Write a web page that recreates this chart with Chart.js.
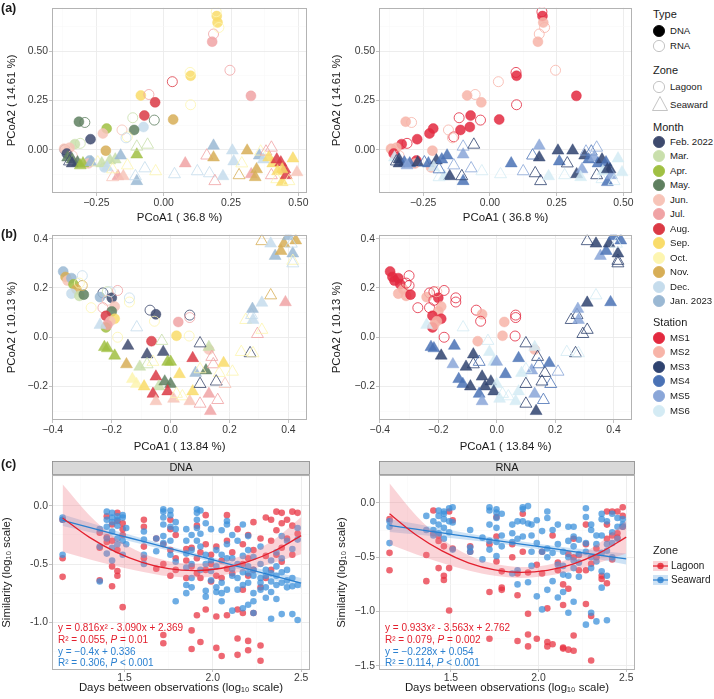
<!DOCTYPE html>
<html><head><meta charset="utf-8">
<script src="https://cdn.jsdelivr.net/npm/chart.js@4.4.1/dist/chart.umd.min.js"></script>
<style>
body{margin:0;background:#fff;width:714px;height:699px;position:relative;overflow:hidden;font-family:"Liberation Sans",Arial,sans-serif;color:#1a1a1a}
canvas{position:absolute}
.pl{position:absolute;font-weight:bold;font-size:12.5px;line-height:14px}
.t{position:absolute;white-space:nowrap;line-height:12px}
.lt{font-size:11px}
.li{font-size:9.6px}
.eq{font-size:10px}
svg{position:absolute;overflow:visible}
</style></head><body>
<canvas id="a1" width="315" height="230" style="left:0;top:0"></canvas>
<canvas id="a2" width="314" height="230" style="left:326px;top:0"></canvas>
<canvas id="b1" width="315" height="230" style="left:0;top:227px"></canvas>
<canvas id="b2" width="314" height="230" style="left:326px;top:227px"></canvas>
<canvas id="c1" width="315" height="244" style="left:0;top:455px"></canvas>
<canvas id="c2" width="314" height="244" style="left:326px;top:455px"></canvas>
<div class="pl" style="left:1px;top:1px">(a)</div>
<div class="pl" style="left:1px;top:227px">(b)</div>
<div class="pl" style="left:1px;top:457px">(c)</div>
<div id="legend"></div>
<script>
// ---------- categories ----------
const typeNames = ['DNA', 'RNA'];
const zoneNames = ['Lagoon', 'Seaward'];
const monthNames = ['Feb. 2022','Mar.','Apr.','May.','Jun.','Jul.','Aug.','Sep.','Oct.','Nov.','Dec.','Jan. 2023'];
const monthColors = ['#3e4a6e','#c9dfac','#a0c043','#5f8060','#f7c4b8','#f0a3a5','#db3a45','#f9dc6a','#fdf5b0','#d7ae57','#c5dcec','#9ab8d3'];
const stationNames = ['MS1','MS2','MS3','MS4','MS5','MS6'];
const stationColors = ['#e3293f','#f7b4a8','#2f4370','#4a72b5','#8aa6d8','#d4ebf4'];

// ---------- PCoA (a): [PCoA1, PCoA2, type(0 DNA/1 RNA), month, station] ----------
const pcoaA = [
[0.197,0.678,0,7,0],[0.200,0.645,0,7,1],[0.195,0.700,1,8,0],[0.185,0.587,1,5,1],[0.205,0.620,1,8,1],
[0.180,0.548,0,5,1],[0.246,0.403,1,5,1],[0.032,0.345,1,6,1],[0.100,0.375,0,7,0],[0.098,0.392,1,8,0],
[0.100,0.228,1,8,0],[0.324,0.273,0,5,0],[-0.085,0.275,0,7,1],[-0.055,0.280,1,5,1],[-0.032,0.240,0,6,1],
[-0.072,0.173,0,6,0],[0.035,0.153,0,9,0],[-0.035,0.150,1,3,0],[-0.075,0.115,0,10,0],[-0.115,0.162,1,1,0],
[-0.110,0.100,0,3,0],[-0.135,0.065,1,8,0],[-0.155,0.100,1,4,1],[-0.212,0.107,0,2,0],[-0.226,0.082,0,4,0],
[-0.272,0.053,0,0,0],[-0.315,0.142,0,3,1],[-0.293,0.138,1,3,1],[-0.330,0.028,0,1,0],[-0.310,0.032,1,1,0],
[-0.215,-0.005,0,9,1],[-0.367,0.000,1,0,1],[-0.370,0.005,0,4,1],[-0.350,0.010,0,4,1],[-0.360,-0.020,0,0,0],
[-0.275,-0.055,0,11,0],[-0.280,-0.070,0,4,1],[-0.220,-0.090,0,10,1],[-0.340,-0.030,1,4,1],[-0.140,0.060,1,10,1],
[-0.357,-0.040,0,3,5],[-0.340,-0.050,0,3,2],[-0.320,-0.065,0,3,3],[-0.300,-0.070,0,2,3],[-0.340,-0.070,0,0,2],
[-0.310,-0.080,0,2,4],[-0.350,-0.060,1,0,2],[-0.270,-0.065,0,11,2],[-0.245,-0.065,1,8,3],[-0.230,-0.070,0,1,3],
[-0.200,-0.055,0,1,2],[-0.180,-0.050,0,1,3],[-0.160,-0.030,0,11,3],[-0.100,-0.025,0,2,4],[-0.100,0.015,1,1,4],
[-0.060,0.025,1,1,2],[-0.135,-0.080,1,8,4],[-0.210,-0.090,0,10,5],[-0.170,-0.135,0,5,5],[-0.150,-0.135,0,4,2],
[-0.190,-0.140,1,4,5],[-0.100,-0.160,0,11,3],[-0.070,-0.095,1,10,4],[-0.105,-0.135,1,10,2],[0.040,-0.125,1,10,5],
[0.080,-0.070,0,5,3],[0.125,-0.110,1,10,4],[0.170,-0.120,1,10,2],[0.190,-0.160,1,5,2],[0.220,-0.135,0,10,5],
[0.160,-0.030,1,5,3],[0.185,-0.040,0,9,2],[0.185,0.020,0,11,4],[0.255,-0.005,0,10,2],[0.260,-0.060,0,10,3],
[0.290,-0.070,1,8,2],[0.280,-0.130,1,9,5],[0.310,-0.005,0,9,2],[0.325,-0.125,0,5,2],[0.345,-0.100,0,9,4],
[0.340,-0.140,0,9,5],[0.355,-0.030,0,11,2],[0.370,-0.050,0,10,3],[0.360,-0.010,1,8,4],[0.380,-0.010,1,5,3],
[0.400,0.010,1,5,4],[0.390,-0.040,0,7,4],[0.405,-0.070,0,7,3],[0.420,-0.050,0,6,2],[0.435,-0.065,0,6,3],
[0.450,-0.100,0,6,2],[0.400,-0.130,1,5,2],[0.423,-0.110,0,7,5],[0.420,-0.150,1,8,5],[0.440,-0.165,0,7,3],
[0.455,-0.130,0,6,4],[0.480,-0.045,0,7,5],[0.495,-0.115,0,4,5],[0.465,-0.160,1,8,5],[-0.030,-0.110,1,8,5],
[-0.190,-0.100,1,8,3],[0.440,-0.100,0,7,2]
];

// ---------- PCoA (b) ----------
const pcoaB = [
[-0.365,0.267,0,11,0],[-0.357,0.245,0,9,0],[-0.350,0.230,0,4,0],[-0.337,0.240,0,11,0],[-0.330,0.215,0,2,0],
[-0.320,0.195,0,9,1],[-0.337,0.177,0,10,1],[-0.310,0.168,0,1,1],[-0.295,0.173,0,3,0],[-0.300,0.250,1,10,0],
[-0.300,0.210,1,9,0],[-0.270,0.120,1,8,0],[-0.230,0.180,1,0,0],[-0.240,0.163,0,11,1],[-0.215,0.185,1,1,0],
[-0.200,0.160,0,0,0],[-0.180,0.190,1,5,0],[-0.190,0.125,0,4,1],[-0.230,0.120,1,5,0],[-0.200,0.105,0,3,1],
[-0.220,0.087,0,6,0],[-0.190,0.075,0,7,0],[-0.205,0.065,0,4,1],[-0.220,0.040,0,2,0],[-0.215,0.050,0,5,1],
[-0.140,0.160,1,10,0],[-0.140,0.143,1,8,0],[-0.180,0.000,1,8,0],[-0.070,0.110,1,0,0],[-0.050,0.093,0,0,1],
[-0.055,0.065,1,8,0],[-0.065,-0.016,0,6,1],[0.026,0.062,0,5,1],[0.020,0.006,0,7,1],[0.065,0.090,1,0,0],
[0.065,0.080,1,5,0],[0.063,0.005,1,8,0],[-0.215,0.150,1,4,0],[-0.205,0.185,1,10,1],[-0.310,0.220,1,8,0],
[0.130,-0.050,0,4,1],
[-0.240,0.050,0,10,5],[-0.225,-0.040,0,2,3],[-0.215,-0.045,0,2,3],[-0.190,-0.075,0,2,2],[-0.150,-0.110,0,9,4],
[-0.145,-0.035,0,0,3],[-0.115,0.040,1,10,5],[-0.080,-0.070,0,0,2],[-0.105,-0.120,0,1,2],[-0.080,-0.110,1,1,2],
[-0.060,-0.100,1,8,3],[-0.025,-0.060,0,0,5],[-0.030,-0.015,1,1,5],[-0.010,-0.100,0,2,5],[0.000,-0.100,0,2,4],
[-0.130,-0.170,0,8,3],[-0.116,-0.190,0,8,3],[-0.090,-0.200,0,7,2],[-0.050,-0.160,0,6,2],[-0.040,-0.200,0,1,2],
[-0.020,-0.180,0,3,2],[0.000,-0.190,0,3,5],[-0.060,-0.230,0,6,3],[-0.050,-0.260,0,4,4],[-0.010,-0.220,0,6,2],
[0.010,-0.250,0,4,5],[0.030,-0.150,0,7,3],[0.040,-0.240,1,8,5],[0.075,-0.085,0,6,3],[0.085,-0.145,0,11,5],
[0.065,-0.260,0,4,5],[0.075,-0.220,0,7,5],[0.120,-0.135,0,3,4],[0.130,-0.040,0,1,5],[0.130,-0.230,0,5,4],
[0.135,-0.300,0,5,2],[0.100,-0.025,1,0,2],[0.140,-0.080,1,5,2],[0.145,-0.110,1,5,3],[0.165,-0.145,1,8,2],
[0.155,-0.180,1,0,2],[0.100,-0.190,1,0,2],[0.100,-0.130,1,8,5],[0.180,-0.105,0,7,3],[0.185,-0.190,1,4,3],
[0.160,-0.255,1,5,3],[0.100,-0.270,1,5,2],[0.210,-0.140,1,8,4],[0.270,-0.065,1,0,2],[0.280,-0.065,1,8,5],
[0.255,0.070,1,8,2],[0.275,0.090,1,10,2],[0.278,0.115,0,11,4],[0.310,0.140,0,10,2],[0.280,0.070,0,10,4],
[0.295,0.013,1,5,2],[0.310,0.030,1,8,2],[0.340,0.170,1,9,5],[0.390,0.142,0,5,3],[0.310,0.390,1,9,2],
[0.340,0.380,0,10,2],[0.355,0.330,0,11,4],[0.375,0.350,0,9,3],[0.385,0.380,0,9,2],[0.400,0.410,0,11,3],
[0.425,0.393,0,9,3],[0.415,0.340,0,11,2],[0.415,0.310,1,8,2],[0.415,0.300,1,10,2],[0.410,0.380,1,10,5],
[0.240,-0.060,1,8,5],[0.020,-0.230,1,8,5]
];

// ---------- (c) similarity vs days: [log10 days, [log10 similarity values]] ----------
const dnaLagoon = [
[1.15,[-0.45,-0.61,-0.12]],[1.36,[-0.36,-0.64,-0.23]],[1.40,[-0.09,-0.27,-0.31]],[1.43,[-0.16,-0.52,-0.69,-0.30]],
[1.46,[-0.06,-0.56,-0.60,-0.13,-0.38]],[1.49,[-0.20,-0.25,-0.87,-0.15]],[1.61,[-0.35,-0.18,-0.45,-0.12]],
[1.68,[-0.28,-0.54]],[1.72,[-1.11,-1.18,-0.50,-0.33]],[1.76,[-0.12,-0.20,-0.38,-0.60]],[1.79,[-0.25,-0.45,-0.55]],
[1.85,[-0.37,-0.62,-0.47]],[1.88,[-1.07,-1.23,-0.36,-0.52]],[1.91,[-0.17,-0.58,-0.94,-0.45]],[1.93,[-1.17,-0.40,-0.62]],
[1.96,[-0.08,-0.33,-0.55,-0.89]],[1.99,[-0.50,-0.65,-0.42]],[2.02,[-1.22,-0.60,-0.35,-0.95]],[2.05,[-1.29,-0.47,-0.62]],
[2.08,[-0.08,-0.30,-0.54,-0.94]],[2.11,[-0.40,-0.58]],[2.14,[-1.14,-1.28,-0.20,-0.89]],[2.17,[-0.33,-0.50,-0.72,-0.92]],
[2.20,[-1.16,-1.24,-0.25,-0.45,-0.60]],[2.23,[-0.14,-0.38,-0.55,-0.92]],[2.27,[-1.20,-1.33,-0.28,-0.70]],
[2.30,[-0.10,-0.43,-0.62]],[2.33,[-0.12,-0.30,-0.55]],[2.36,[-0.05,-0.21,-0.42]],[2.39,[-0.06,-0.15,-0.36,-0.48]],
[2.42,[-0.12,-0.28]],[2.45,[-0.05,-0.17,-0.42]],[2.48,[-0.06,-0.24]]
];
const dnaSeaward = [
[1.15,[-0.10,-0.12,-0.42]],[1.36,[-0.35,-0.20,-0.65]],[1.40,[-0.05,-0.12,-0.18,-0.28,-0.41]],
[1.43,[-0.06,-0.10,-0.14,-0.22,-0.36,-0.47]],[1.46,[-0.09,-0.12,-0.17,-0.28,-0.33]],[1.49,[-0.08,-0.10,-0.30,-0.42]],
[1.51,[-0.19,-0.33]],[1.61,[-0.22,-0.29,-0.42,-0.50]],[1.68,[-0.28,-0.39]],[1.72,[-0.03,-0.05,-0.10,-0.16,-0.26,-0.32]],
[1.76,[-0.04,-0.08,-0.18,-0.30,-0.42]],[1.79,[-0.14,-0.20,-0.48,-0.82]],[1.85,[-0.20,-0.30,-0.41,-0.53,-0.68,-0.75]],
[1.88,[-0.25,-0.38,-0.50,-0.62,-0.70]],[1.91,[-0.03,-0.06,-0.12,-0.19,-0.30]],[1.93,[-0.04,-0.24,-0.35,-0.55]],
[1.96,[-0.15,-0.42,-0.50,-0.73,-0.78]],[1.99,[-0.20,-0.47,-0.56,-0.64]],[2.02,[-0.38,-0.52,-0.70,-0.74]],
[2.05,[-0.21,-0.42,-0.66,-0.75,-0.82]],[2.08,[-0.13,-0.16,-0.33,-0.45,-0.72]],[2.11,[-0.25,-0.45,-0.54,-0.60,-0.90]],
[2.14,[-0.30,-0.50,-0.62,-0.72]],[2.17,[-0.16,-0.43,-0.57,-0.68,-0.88]],[2.20,[-0.26,-0.38,-0.52,-0.58,-0.66,-0.85]],
[2.23,[-0.44,-0.55,-0.60,-0.75,-0.82,-0.92]],[2.27,[-0.35,-0.50,-0.62,-0.66,-0.72]],[2.30,[-0.55,-0.60,-0.70,-0.79]],
[2.33,[-0.47,-0.58,-0.65,-0.74,-0.97]],[2.36,[-0.40,-0.52,-0.60,-0.68,-0.80]],[2.39,[-0.26,-0.45,-0.57,-0.66,-0.93]],
[2.42,[-0.30,-0.55,-0.64,-0.70]],[2.45,[-0.37,-0.62,-0.69,-0.93]],[2.48,[-0.19,-0.29,-0.68,-0.98]]
];
const rnaLagoon = [
[1.15,[-0.46,-0.62,-0.15]],[1.36,[-0.72,-0.48]],[1.40,[-0.07,-0.28]],[1.43,[-0.30,-0.35,-0.60]],
[1.46,[-0.67,-0.71,-0.40]],[1.49,[-0.60,-0.99,-0.08]],[1.51,[-0.16,-0.42]],[1.61,[-0.40,-0.45]],
[1.72,[-0.82,-1.25,-0.38]],[1.76,[-0.13,-0.31,-0.54]],[1.79,[-0.63,-0.78,-0.80]],[1.85,[-0.50,-0.38]],
[1.88,[-0.85,-1.27,-0.65]],[1.91,[-0.10,-0.45]],[1.94,[-1.02,-1.21,-1.32,-0.64]],[1.99,[-0.57,-1.25]],
[2.02,[-0.45,-0.65]],[2.05,[-0.97,-1.28,-1.32]],[2.08,[-0.30,-1.30]],[2.11,[-0.55,-0.62]],
[2.14,[-1.33,-1.34,-0.94,-0.75]],[2.17,[-0.47,-0.79,-1.35]],[2.20,[-1.22,-1.36,-0.33,-0.50]],[2.23,[-0.48,-0.62]],
[2.27,[-0.20,-0.38,-0.62,-0.93]],[2.30,[-1.04,-1.45,-0.56]],[2.33,[-0.42,-0.50]],[2.36,[-0.67,-0.70]],
[2.39,[-0.08,-0.20,-0.33,-0.74]],[2.42,[-0.08,-0.30,-0.52]],[2.45,[-0.08,-0.28,-0.32]],[2.48,[-0.04,-0.12,-0.22]]
];
const rnaSeaward = [
[1.15,[-0.17,-0.22,-0.37]],[1.36,[-0.12,-0.25]],[1.40,[-0.17,-0.25,-0.30]],[1.43,[-0.07,-0.12,-0.20,-0.28]],
[1.46,[-0.08,-0.10,-0.15,-0.23,-0.33]],[1.49,[-0.05,-0.17,-0.27]],[1.51,[-0.04,-0.18,-0.43]],[1.61,[-0.25,-0.41,-0.45]],
[1.68,[-0.32,-0.52]],[1.72,[-0.04,-0.07,-0.20,-0.35,-0.43]],[1.76,[-0.06,-0.09,-0.14,-0.23,-0.36,-0.49]],
[1.79,[-0.10,-0.30,-0.40]],[1.85,[-0.20,-0.28,-0.36,-0.65]],[1.88,[-0.17,-0.33,-0.62,-0.75]],
[1.91,[-0.04,-0.06,-0.17,-0.31]],[1.94,[-0.03,-0.19,-0.73]],[1.96,[-0.20,-0.30,-0.45,-0.58]],[1.99,[-0.16,-0.37,-0.86]],
[2.02,[-0.26,-0.45,-0.98]],[2.05,[-0.08,-0.14,-0.42,-0.50,-0.80]],[2.08,[-0.25,-0.46,-0.72]],
[2.11,[-0.20,-0.38,-0.57,-0.87]],[2.14,[-0.45,-0.58,-0.66,-0.82]],[2.17,[-0.22,-0.35,-0.50,-0.67,-1.01]],
[2.20,[-0.22,-0.31,-0.40,-0.53,-0.60,-0.91]],[2.23,[-0.34,-0.47,-0.55,-0.68]],[2.27,[-0.05,-0.13,-0.37,-0.45,-1.12]],
[2.30,[-0.20,-0.25,-0.50,-0.60,-1.01]],[2.33,[-0.30,-0.38,-0.54,-1.09]],[2.36,[-0.10,-0.15,-0.30,-0.46,-0.63,-0.78]],
[2.39,[-0.17,-0.38,-0.44,-0.67,-1.08]],[2.42,[-0.10,-0.27,-0.37,-0.50]],[2.45,[-0.14,-0.22,-0.33]],[2.48,[-0.15,-0.20,-0.22]]
];

// ---------- (c) fitted curves and confidence bands, read at these x ----------
const fitX = [1.15,1.30,1.45,1.60,1.75,1.90,2.05,2.20,2.35,2.50];
const dnaLagFit = [-0.105,-0.269,-0.396,-0.486,-0.540,-0.556,-0.536,-0.480,-0.386,-0.256];
const dnaLagUp  = [0.185,-0.079,-0.276,-0.406,-0.475,-0.496,-0.476,-0.410,-0.286,-0.096];
const dnaLagLo  = [-0.395,-0.459,-0.516,-0.566,-0.605,-0.616,-0.596,-0.550,-0.486,-0.416];
const dnaSeaFit = [-0.124,-0.184,-0.244,-0.304,-0.364,-0.424,-0.484,-0.544,-0.604,-0.664];
const dnaSeaUp  = [-0.074,-0.144,-0.214,-0.279,-0.344,-0.404,-0.464,-0.519,-0.569,-0.619];
const dnaSeaLo  = [-0.174,-0.224,-0.274,-0.329,-0.384,-0.444,-0.504,-0.569,-0.639,-0.709];
const rnaLagFit = [-0.101,-0.293,-0.442,-0.551,-0.616,-0.640,-0.621,-0.561,-0.458,-0.315];
const rnaLagUp  = [0.179,-0.113,-0.332,-0.481,-0.561,-0.590,-0.571,-0.501,-0.368,-0.165];
const rnaLagLo  = [-0.381,-0.473,-0.552,-0.621,-0.671,-0.690,-0.671,-0.621,-0.548,-0.465];
const rnaSeaFit = [-0.208,-0.242,-0.277,-0.311,-0.345,-0.379,-0.413,-0.448,-0.482,-0.516];
const rnaSeaUp  = [-0.148,-0.192,-0.237,-0.281,-0.320,-0.354,-0.388,-0.418,-0.442,-0.466];
const rnaSeaLo  = [-0.268,-0.292,-0.317,-0.341,-0.370,-0.404,-0.438,-0.478,-0.522,-0.566];

// ---------- helpers ----------
Chart.defaults.font.family = '"Liberation Sans", Arial, sans-serif';
const hexA = (h,a) => { const n = parseInt(h.slice(1),16); return `rgba(${n>>16&255},${n>>8&255},${n&255},${a})`; };
const RED = '#e3202e', BLUE = '#2a80d0';
const minus = (v,d,sign) => (v < -1e-9 ? sign : '') + Math.abs(v).toFixed(d);

function mkAxis(o){
  const all = [...o.major, ...o.minor].sort((a,b)=>a-b);
  const isMaj = v => o.major.some(m => Math.abs(m - v) < 1e-9);
  const tv = c => (c && c.tick) ? c.tick.value : NaN;
  return {
    type:'linear', min:o.min, max:o.max,
    afterBuildTicks: s => { s.ticks = all.filter(v => v >= o.min && v <= o.max).map(v => ({value:v})); },
    afterFit: s => { if (o.y) s.width = o.size; else s.height = o.size; },
    ticks:{autoSkip:false, maxRotation:0, minRotation:0, padding:o.tpad ?? 1, color:'#3a3a3a', font:{size:10.4},
      callback: v => isMaj(v) ? o.fmt(v) : ''},
    grid:{drawTicks:true, tickLength:o.tlen ?? 3,
      color: c => isMaj(tv(c)) ? '#ebebeb' : '#f6f6f6',
      lineWidth: c => isMaj(tv(c)) ? 0.9 : 0.5,
      tickColor: c => isMaj(tv(c)) ? '#b3b3b3' : 'rgba(0,0,0,0)', tickWidth:0.8},
    border:{display:false},
    title:{display:true, text:o.title, color:'#1a1a1a', font:{size:11.4}, padding:{top:o.pad, bottom:o.pad}}
  };
}

const framePlugin = {
  id:'frame',
  afterDraw(chart, args, opts){
    const {ctx, chartArea:a} = chart;
    ctx.save();
    if (opts.strip){
      const h = 13;
      ctx.fillStyle = '#d9d9d9';
      ctx.fillRect(a.left, a.top - h - 1, a.right - a.left, h);
      ctx.strokeStyle = '#8c8c8c'; ctx.lineWidth = 0.8;
      ctx.strokeRect(Math.round(a.left)+0.5, Math.round(a.top - h - 1)+0.5, Math.round(a.right-a.left)-1, h);
      ctx.fillStyle = '#1a1a1a'; ctx.font = '11px "Liberation Sans", Arial, sans-serif';
      ctx.textAlign = 'center'; ctx.textBaseline = 'middle';
      ctx.fillText(opts.strip, (a.left + a.right)/2, a.top - h/2 - 0.5);
    }
    ctx.strokeStyle = '#b3b3b3'; ctx.lineWidth = 1;
    ctx.strokeRect(Math.round(a.left)+0.5, Math.round(a.top)+0.5, Math.round(a.right-a.left)-1, Math.round(a.bottom-a.top)-1);
    ctx.restore();
  }
};

function baseOpts(xA, yA, padTop, strip){
  return {
    responsive:false, animation:false, events:[],
    layout:{padding:{top:padTop, right:5, left:0, bottom:0}},
    plugins:{legend:{display:false}, tooltip:{enabled:false}, frame:{strip:strip}},
    scales:{x:xA, y:yA}
  };
}

function pcoaChart(id, pts, by, xA, yA){
  const col = p => by === 'month' ? monthColors[p[3]] : stationColors[p[4]];
  const lagoon = p => p[4] < 2;
  const ds = {
    data: pts.map(p => ({x:p[0], y:p[1]})),
    pointStyle: pts.map(p => lagoon(p) ? 'circle' : 'triangle'),
    pointRadius: pts.map(p => lagoon(p) ? 5 : 6.9),
    backgroundColor: pts.map(p => p[2] === 0 ? hexA(col(p), 0.85) : 'rgba(0,0,0,0)'),
    borderColor: pts.map(p => hexA(col(p), p[2] === 0 ? 0.85 : 0.9)),
    borderWidth: pts.map(p => p[2] === 0 ? 0.5 : 0.9)
  };
  new Chart(document.getElementById(id), {type:'scatter', data:{datasets:[ds]}, options:baseOpts(xA, yA, 5), plugins:[framePlugin]});
}

const fA = v => minus(v, 2, '\u2212');
const fB = v => minus(v, 1, '\u2212');
const axA_x = (title) => ({min:-0.415, max:0.533, major:[-0.25,0,0.25,0.5], minor:[-0.375,-0.125,0.125,0.375], fmt:fA, title, size:37, pad:5});
const axA_y = (size,pad) => ({y:true, min:-0.22, max:0.72, major:[0,0.25,0.5], minor:[-0.125,0.125,0.375,0.625], fmt:fA, title:'PCoA2 ( 14.61 %)', size, pad});
const axB_x = () => ({min:-0.403, max:0.464, major:[-0.4,-0.2,0,0.2,0.4], minor:[-0.3,-0.1,0.1,0.3], fmt:fB, title:'PCoA1 ( 13.84 %)', size:37, pad:3.4});
const axB_y = (size,pad) => ({y:true, min:-0.336, max:0.416, major:[-0.2,0,0.2,0.4], minor:[-0.3,-0.1,0.1,0.3], fmt:fB, title:'PCoA2 ( 10.13 %)', size, pad});

pcoaChart('a1', pcoaA, 'month', mkAxis(axA_x('PCoA1 ( 36.8 %)')), mkAxis(axA_y(52,5)));
pcoaChart('a2', pcoaA, 'station', mkAxis(axA_x('PCoA1 ( 36.8 %)')), mkAxis(axA_y(53,4.4)));
pcoaChart('b1', pcoaB, 'month', mkAxis(axB_x()), mkAxis(axB_y(52,5)));
pcoaChart('b2', pcoaB, 'station', mkAxis(axB_x()), mkAxis(axB_y(53,4.4)));

function simChart(id, strip, lagCols, seaCols, lf, lu, ll, sf, su, sl, yAx){
  const pts = cols => cols.flatMap(([x, ys]) => ys.map(y => ({x, y})));
  const line = ys => fitX.map((x,i) => ({x, y:ys[i]}));
  const edge = {showLine:true, borderWidth:0, borderColor:'rgba(0,0,0,0)', pointRadius:0, tension:0.4, cubicInterpolationMode:'monotone'};
  const datasets = [
    {data:line(lf), showLine:true, borderColor:RED, borderWidth:1.3, pointRadius:0, tension:0.4, cubicInterpolationMode:'monotone', fill:false, order:0},
    {data:line(sf), showLine:true, borderColor:BLUE, borderWidth:1.3, pointRadius:0, tension:0.4, fill:false, order:0},
    {...edge, data:line(lu), fill:'+1', backgroundColor:'rgba(240,120,135,0.32)', order:1},
    {...edge, data:line(ll), fill:false, order:1},
    {...edge, data:line(su), fill:'+1', backgroundColor:'rgba(100,165,225,0.32)', order:1},
    {...edge, data:line(sl), fill:false, order:1},
    {data:pts(lagCols), pointRadius:3.3, backgroundColor:'rgba(232,50,65,0.74)', borderWidth:0, order:3},
    {data:pts(seaCols), pointRadius:3.3, backgroundColor:'rgba(60,145,218,0.74)', borderWidth:0, order:2}
  ];
  const xA = mkAxis({min:1.09, max:2.55, major:[1.5,2.0,2.5], minor:[1.25,1.75,2.25], fmt:v=>v.toFixed(1),
    title:'Days between observations (log\u2081\u2080 scale)', size:29, pad:4.4, tlen:2, tpad:0});
  new Chart(document.getElementById(id), {type:'scatter', data:{datasets}, options:baseOpts(xA, mkAxis(yAx), 20, strip), plugins:[framePlugin]});
}
simChart('c1','DNA', dnaLagoon, dnaSeaward, dnaLagFit, dnaLagUp, dnaLagLo, dnaSeaFit, dnaSeaUp, dnaSeaLo,
  {y:true, min:-1.41, max:0.265, major:[-1.0,-0.5,0], minor:[-1.25,-0.75,-0.25,0.25], fmt:v=>minus(v,1,'-'), title:'Similarity (log\u2081\u2080 scale)', size:52, pad:0.5});
simChart('c2','RNA', rnaLagoon, rnaSeaward, rnaLagFit, rnaLagUp, rnaLagLo, rnaSeaFit, rnaSeaUp, rnaSeaLo,
  {y:true, min:-1.537, max:0.256, major:[-1.5,-1.0,-0.5,0], minor:[-1.25,-0.75,-0.25], fmt:v=>minus(v,1,'\u2212'), title:'Similarity (log\u2081\u2080 scale)', size:53, pad:9});

// ---------- text: equations and legends ----------
const eqs = [
  {left:58, lines:[[RED,'y = 0.816x\u00b2 - 3.090x + 2.369'],[RED,'R\u00b2 = 0.055, <i>P</i> = 0.01'],[BLUE,'y = \u22120.4x + 0.336'],[BLUE,'R\u00b2 = 0.306, <i>P</i> &lt; 0.001']]},
  {left:385, lines:[[RED,'y = 0.933x\u00b2 - 3.563x + 2.762'],[RED,'R\u00b2 = 0.079, <i>P</i> = 0.002'],[BLUE,'y = \u22120.228x + 0.054'],[BLUE,'R\u00b2 = 0.114, <i>P</i> &lt; 0.001']]}
];
const eqY = [628, 640, 652, 663];
let html = '';
eqs.forEach(e => e.lines.forEach(([c,t],i) => { html += `<div class="t eq" style="left:${e.left}px;top:${eqY[i]-6}px;color:${c}">${t}</div>`; }));

const title = (t,y) => `<div class="t lt" style="left:653px;top:${y-6}px">${t}</div>`;
const label = (t,y) => `<div class="t li" style="left:670px;top:${y-6}px">${t}</div>`;
const circ = (y, fill, stroke) => `<svg style="left:653px;top:${y-6}px" width="12" height="12"><circle cx="6" cy="6" r="5.6" fill="${fill}" stroke="${stroke}" stroke-width="0.8"/></svg>`;
html += title('Type', 14);
html += circ(31, '#000', '#000') + label(typeNames[0], 31);
html += circ(46, '#fff', '#b5b5b5') + label(typeNames[1], 46);
html += title('Zone', 70);
html += circ(87, '#fff', '#b5b5b5') + label(zoneNames[0], 87);
html += `<svg style="left:652px;top:96px" width="16" height="15"><polygon points="8,0.5 15.5,14.5 0.5,14.5" fill="#fff" stroke="#b5b5b5" stroke-width="0.8"/></svg>` + label(zoneNames[1], 105);
html += title('Month', 127);
monthNames.forEach((m,i) => { const y = 142 + i*14.45; html += circ(y, monthColors[i], monthColors[i]) + label(m, y); });
html += title('Station', 322);
stationNames.forEach((s,i) => { const y = 337.5 + i*14.6; html += circ(y, stationColors[i], stationColors[i]) + label(s, y); });
// (c) legend
html += title('Zone', 550);
const key = (y, band, c) => `<svg style="left:653px;top:${y-6}px" width="15" height="12"><rect x="0" y="1" width="15" height="10" fill="${band}"/><line x1="0" y1="6" x2="15" y2="6" stroke="${c}" stroke-width="1.2"/><circle cx="7.5" cy="6" r="3.2" fill="${c}" fill-opacity="0.8"/></svg>`;
html += key(566, 'rgba(240,120,135,0.32)', RED) + `<div class="t li" style="left:671px;top:560px;font-size:10px">${zoneNames[0]}</div>`;
html += key(580, 'rgba(100,165,225,0.32)', BLUE) + `<div class="t li" style="left:671px;top:574px;font-size:10px">${zoneNames[1]}</div>`;
document.getElementById('legend').innerHTML = html;
</script>
</body></html>
